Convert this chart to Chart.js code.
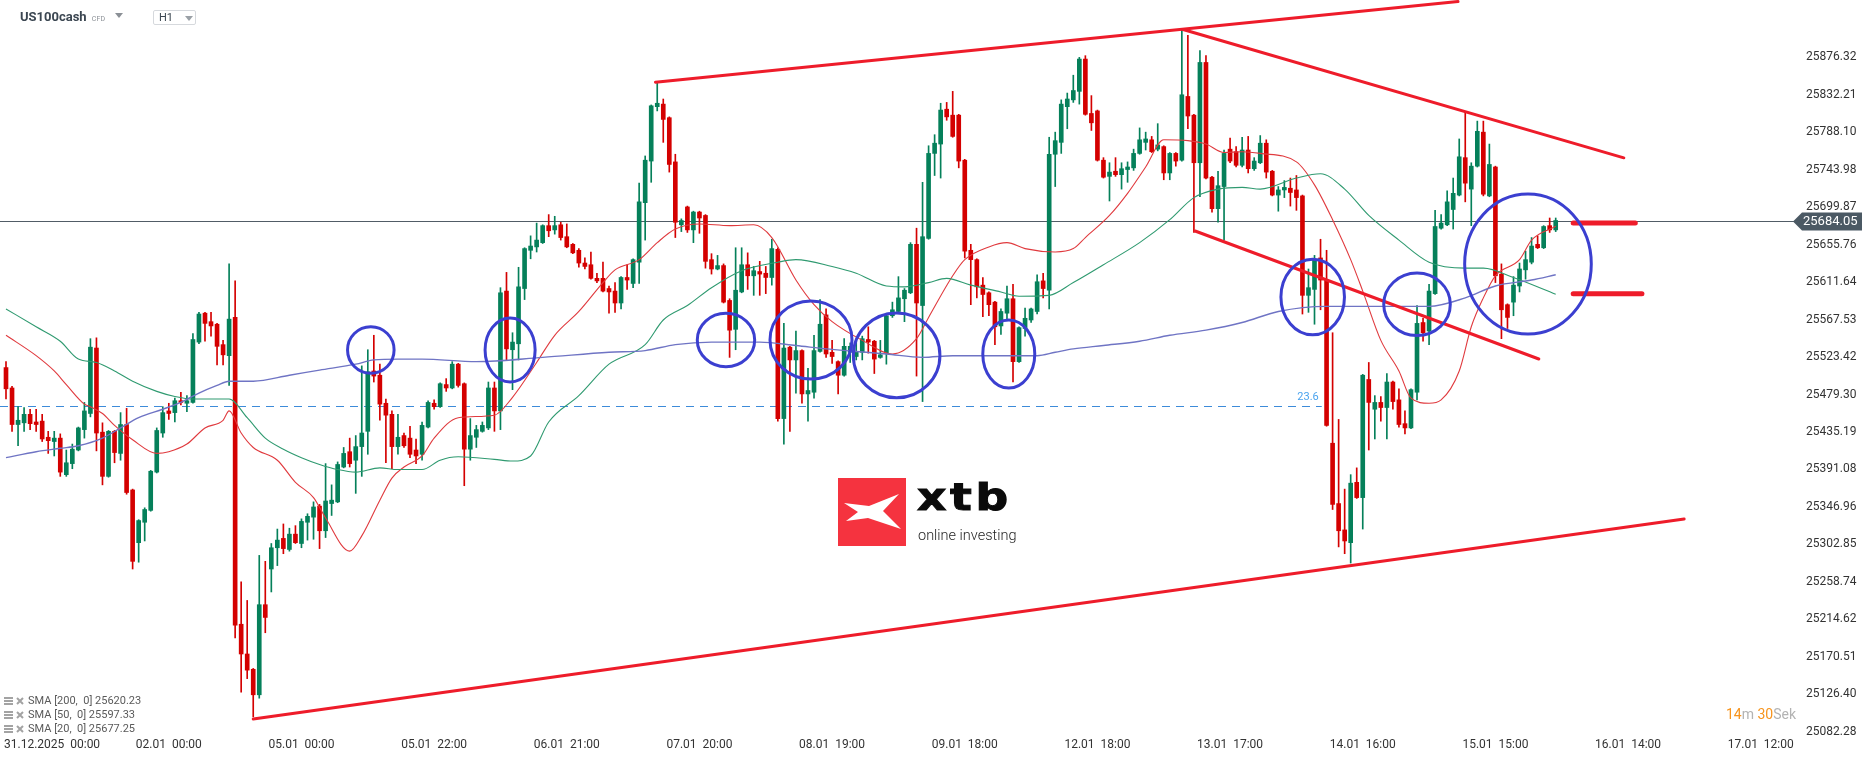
<!DOCTYPE html>
<html>
<head>
<meta charset="utf-8">
<title>US100cash H1</title>
<script src="https://cdn.jsdelivr.net/npm/chart.js@4.4.1/dist/chart.umd.min.js"></script>
<style>
  html, body { margin: 0; padding: 0; background: #fff; overflow: hidden; }
  #wrap { position: relative; width: 1866px; height: 761px; font-family: Roboto, "Noto Sans", sans-serif; }
  #c { position: absolute; left: 0; top: 0; }
  .sym { position: absolute; left: 20px; top: 9px; font-weight: 700; font-size: 13px; color: #3b4651; white-space: nowrap; }
  .sym .cfd { font-weight: 400; font-size: 7px; color: #8b9096; margin-left: 5px; letter-spacing: 0.2px; }
  .caret { display: inline-block; width: 0; height: 0; border-left: 4px solid transparent; border-right: 4px solid transparent; border-top: 5px solid #8b9096; }
  .sym .caret { margin-left: 10px; vertical-align: 3px; }
  .tf { position: absolute; left: 153px; top: 10px; width: 43px; height: 15px; border: 1px solid #d6d9dd; border-radius: 2px; font-size: 11px; color: #3b4651; box-sizing: border-box; padding-left: 5px; line-height: 14px; }
  .tf .caret { position: absolute; left: 31px; top: 5px; border-top-color: #9aa0a6; }
  .logo { position: absolute; left: 838px; top: 478px; }
  .logo .word { position: absolute; left: 79px; top: 0px; font-family: "DejaVu Sans", sans-serif; font-weight: 700; font-size: 38px; letter-spacing: 3px; color: #0b0b0b; line-height: 38px; transform: scaleX(1.2); transform-origin: 0 0; -webkit-text-stroke: 1px #0b0b0b; }
  .logo .tag { position: absolute; left: 80px; top: 50px; font-family: Roboto, sans-serif; font-weight: 300; font-size: 14.5px; color: #1e1e1e; white-space: nowrap; line-height: 16px; }
  .legend { position: absolute; left: 4px; top: 694px; font-size: 11px; color: #5a5a5a; }
  .legend .row { height: 14px; line-height: 14px; white-space: pre; display: flex; align-items: center; }
  .legend svg { margin-right: 3px; }
  .timer { position: absolute; right: 70px; top: 706px; font-size: 14px; white-space: nowrap; }
  .timer .o { color: #f7941d; }
  .timer .g { color: #b3b3b3; }
</style>
</head>
<body>
<div id="wrap">
  <canvas id="c" width="1866" height="761"></canvas>
  <div class="sym">US100cash<span class="cfd">CFD</span><span class="caret"></span></div>
  <div class="tf">H1<span class="caret"></span></div>
  <div class="logo">
    <svg width="68" height="68" viewBox="0 0 68 68">
      <rect x="0" y="0" width="68" height="68" fill="#f5333f"/>
      <path d="M6,25 L31,28 L61,16 L45,33 L63,51 L30,40 L8,43 L20,34 Z" fill="#ffffff"/>
    </svg>
    <div class="word">xtb</div>
    <div class="tag">online investing</div>
  </div>
  <div class="legend" id="legend"></div>
  <div class="timer"><span class="o">14</span><span class="g">m</span> <span class="o">30</span><span class="g">Sek</span></div>
</div>
<script>
// ---- US100cash, H1 candles (bar 0 = 30.12 19:00, bar 5 = 31.12 00:00) ----
const open = [
  25511, 25487, 25444, 25446, 25456, 25447, 25448, 25429, 25424, 25428,
  25385, 25398, 25414, 25438, 25457, 25534, 25435, 25383, 25436, 25410,
  25444, 25367, 25305, 25329, 25343, 25388, 25434, 25460, 25458, 25472,
  25469, 25470, 25541, 25575, 25565, 25562, 25538, 25525, 25570, 25209,
  25174, 25156, 25126, 25232, 25274, 25299, 25310, 25297, 25315, 25304,
  25329, 25335, 25348, 25319, 25351, 25353, 25394, 25412, 25402, 25418,
  25436, 25507, 25502, 25469, 25456, 25418, 25431, 25428, 25414, 25409,
  25441, 25469, 25465, 25491, 25487, 25515, 25492, 25415, 25429, 25436,
  25440, 25487, 25460, 25601, 25532, 25539, 25604, 25649, 25653, 25658,
  25678, 25673, 25679, 25665, 25656, 25649, 25634, 25632, 25616, 25616,
  25604, 25601, 25587, 25617, 25610, 25635, 25705, 25754, 25818, 25821,
  25805, 25753, 25679, 25700, 25673, 25694, 25690, 25638, 25627, 25631,
  25590, 25556, 25600, 25632, 25619, 25624, 25622, 25617, 25650, 25451,
  25535, 25520, 25531, 25480, 25482, 25530, 25573, 25529, 25518, 25502,
  25529, 25524, 25529, 25544, 25542, 25523, 25528, 25572, 25577, 25592,
  25599, 25656, 25584, 25663, 25763, 25774, 25815, 25808, 25808, 25755,
  25649, 25638, 25608, 25599, 25588, 25560, 25575, 25592, 25518, 25557,
  25567, 25577, 25613, 25602, 25762, 25776, 25818, 25826, 25836, 25874,
  25810, 25813, 25755, 25736, 25742, 25738, 25744, 25746, 25763, 25776,
  25779, 25768, 25771, 25740, 25763, 25755, 25830, 25808, 25752, 25870,
  25735, 25698, 25724, 25768, 25765, 25749, 25767, 25745, 25752, 25775,
  25742, 25714, 25720, 25722, 25720, 25713, 25596, 25603, 25640, 25614,
  25422, 25351, 25320, 25305, 25376, 25358, 25497, 25462, 25470, 25464,
  25494, 25473, 25445, 25440, 25482, 25564, 25554, 25598, 25675, 25679,
  25697, 25714, 25758, 25721, 25748, 25788, 25713, 25747, 25621, 25585,
  25588, 25607, 25626, 25635, 25656, 25652, 25678, 25673
];
const high = [
  25518, 25489, 25465, 25464, 25462, 25462, 25456, 25436, 25436, 25433,
  25414, 25421, 25441, 25470, 25545, 25546, 25446, 25437, 25437, 25458,
  25463, 25368, 25332, 25346, 25390, 25440, 25465, 25469, 25475, 25482,
  25478, 25551, 25576, 25576, 25576, 25563, 25543, 25633, 25613, 25259,
  25237, 25157, 25290, 25283, 25304, 25321, 25327, 25322, 25325, 25333,
  25339, 25353, 25350, 25398, 25373, 25400, 25417, 25428, 25431, 25513,
  25532, 25549, 25515, 25474, 25460, 25456, 25434, 25442, 25427, 25447,
  25472, 25473, 25493, 25498, 25518, 25516, 25493, 25451, 25443, 25447,
  25494, 25494, 25605, 25623, 25552, 25629, 25652, 25666, 25681, 25679,
  25691, 25689, 25682, 25680, 25657, 25651, 25640, 25647, 25622, 25635,
  25607, 25611, 25618, 25632, 25639, 25728, 25760, 25820, 25847, 25827,
  25806, 25762, 25686, 25701, 25695, 25695, 25691, 25645, 25643, 25633,
  25592, 25652, 25652, 25646, 25630, 25636, 25630, 25662, 25652, 25563,
  25536, 25554, 25532, 25510, 25549, 25591, 25580, 25543, 25519, 25545,
  25540, 25543, 25548, 25559, 25543, 25543, 25575, 25588, 25618, 25604,
  25658, 25675, 25729, 25772, 25785, 25822, 25823, 25836, 25809, 25756,
  25656, 25639, 25617, 25600, 25589, 25580, 25607, 25609, 25559, 25581,
  25581, 25620, 25622, 25782, 25788, 25826, 25834, 25855, 25876, 25878,
  25831, 25814, 25758, 25752, 25758, 25752, 25753, 25768, 25793, 25788,
  25783, 25798, 25772, 25764, 25764, 25908, 25902, 25809, 25884, 25878,
  25736, 25742, 25767, 25781, 25771, 25782, 25783, 25758, 25784, 25779,
  25743, 25724, 25731, 25734, 25737, 25714, 25627, 25643, 25662, 25649,
  25552, 25450, 25368, 25385, 25393, 25503, 25517, 25478, 25477, 25504,
  25495, 25486, 25460, 25486, 25584, 25569, 25609, 25696, 25691, 25719,
  25734, 25780, 25812, 25752, 25801, 25801, 25774, 25748, 25633, 25586,
  25618, 25634, 25648, 25664, 25666, 25678, 25687, 25687
];
const low = [
  25474, 25436, 25419, 25436, 25438, 25436, 25424, 25410, 25407, 25383,
  25383, 25392, 25413, 25428, 25453, 25413, 25373, 25382, 25399, 25402,
  25362, 25274, 25282, 25307, 25342, 25387, 25429, 25450, 25447, 25467,
  25459, 25469, 25539, 25542, 25548, 25514, 25514, 25490, 25193, 25129,
  25145, 25100, 25122, 25199, 25247, 25278, 25292, 25295, 25304, 25299,
  25308, 25309, 25298, 25311, 25337, 25352, 25393, 25394, 25363, 25383,
  25409, 25494, 25449, 25399, 25392, 25409, 25417, 25405, 25398, 25402,
  25440, 25462, 25464, 25483, 25486, 25488, 25372, 25402, 25417, 25435,
  25438, 25436, 25438, 25520, 25485, 25520, 25591, 25639, 25647, 25657,
  25665, 25668, 25661, 25652, 25645, 25629, 25627, 25615, 25611, 25600,
  25575, 25576, 25580, 25603, 25605, 25610, 25661, 25729, 25813, 25776,
  25741, 25664, 25671, 25670, 25658, 25669, 25628, 25621, 25626, 25587,
  25523, 25532, 25599, 25603, 25596, 25596, 25598, 25608, 25448, 25421,
  25436, 25481, 25469, 25448, 25475, 25529, 25523, 25516, 25480, 25501,
  25517, 25520, 25520, 25528, 25504, 25522, 25515, 25570, 25575, 25565,
  25598, 25501, 25471, 25662, 25737, 25734, 25802, 25782, 25746, 25640,
  25585, 25593, 25571, 25572, 25538, 25550, 25567, 25494, 25517, 25548,
  25564, 25574, 25593, 25580, 25724, 25763, 25792, 25823, 25821, 25808,
  25790, 25754, 25734, 25707, 25736, 25721, 25729, 25743, 25762, 25767,
  25764, 25766, 25732, 25732, 25748, 25754, 25792, 25670, 25712, 25733,
  25694, 25682, 25661, 25752, 25747, 25747, 25740, 25743, 25751, 25734,
  25713, 25695, 25711, 25701, 25696, 25574, 25576, 25562, 25579, 25442,
  25344, 25300, 25292, 25281, 25357, 25321, 25414, 25427, 25448, 25427,
  25462, 25441, 25433, 25439, 25473, 25542, 25538, 25597, 25674, 25678,
  25674, 25713, 25706, 25678, 25747, 25713, 25712, 25611, 25545, 25557,
  25572, 25600, 25615, 25633, 25651, 25651, 25670, 25671
];
const close = [
  25486, 25444, 25449, 25456, 25445, 25444, 25427, 25425, 25428, 25388,
  25399, 25415, 25440, 25460, 25535, 25434, 25383, 25436, 25411, 25444,
  25364, 25283, 25331, 25344, 25389, 25437, 25458, 25457, 25472, 25470,
  25472, 25544, 25574, 25563, 25560, 25536, 25526, 25568, 25208, 25174,
  25155, 25126, 25232, 25217, 25299, 25308, 25298, 25315, 25305, 25330,
  25336, 25347, 25319, 25354, 25355, 25397, 25410, 25398, 25418, 25434,
  25506, 25501, 25468, 25455, 25418, 25429, 25419, 25409, 25407, 25443,
  25470, 25465, 25492, 25487, 25515, 25490, 25415, 25431, 25438, 25443,
  25487, 25460, 25599, 25533, 25541, 25606, 25651, 25654, 25661, 25678,
  25672, 25678, 25664, 25653, 25646, 25634, 25630, 25616, 25613, 25601,
  25600, 25587, 25617, 25614, 25638, 25706, 25755, 25819, 25822, 25803,
  25750, 25682, 25684, 25673, 25694, 25687, 25636, 25627, 25631, 25588,
  25555, 25602, 25632, 25619, 25625, 25621, 25617, 25651, 25451, 25534,
  25520, 25531, 25480, 25484, 25531, 25562, 25527, 25524, 25502, 25536,
  25536, 25530, 25545, 25541, 25521, 25526, 25572, 25579, 25593, 25602,
  25656, 25587, 25665, 25763, 25775, 25814, 25806, 25783, 25754, 25648,
  25638, 25606, 25597, 25585, 25559, 25577, 25592, 25518, 25558, 25569,
  25580, 25612, 25604, 25762, 25778, 25821, 25827, 25837, 25874, 25809,
  25799, 25755, 25735, 25741, 25738, 25745, 25747, 25763, 25779, 25780,
  25765, 25773, 25740, 25763, 25754, 25832, 25807, 25752, 25870, 25734,
  25698, 25725, 25763, 25754, 25749, 25767, 25745, 25754, 25775, 25741,
  25714, 25720, 25723, 25717, 25711, 25596, 25605, 25638, 25614, 25443,
  25350, 25319, 25307, 25375, 25358, 25502, 25470, 25470, 25464, 25494,
  25471, 25444, 25440, 25485, 25563, 25552, 25601, 25677, 25681, 25706,
  25716, 25759, 25728, 25748, 25789, 25715, 25750, 25619, 25579, 25570,
  25608, 25627, 25638, 25654, 25652, 25677, 25673, 25684.05
];

// ---- moving averages (bar, value) ----
const sma200Bar = [0, 5, 9, 12, 16, 19, 22, 26, 29, 32, 35, 37, 41, 47, 52, 58, 61, 65, 69, 78,
  89, 100, 106, 111, 117, 125, 131, 136, 141, 146, 152, 157, 163, 171, 174, 177, 182, 188, 193, 199,
  205, 211, 219, 228, 236, 242, 247, 253, 257];
const sma200Val = [25405, 25412, 25416, 25419, 25428, 25440, 25452, 25462, 25470, 25481, 25490, 25495, 25495, 25502, 25508, 25515, 25520, 25521, 25521, 25518,
  25523, 25529, 25531, 25538, 25541, 25541, 25537, 25533, 25530, 25527, 25523, 25525, 25525, 25525, 25529, 25533, 25537, 25542, 25549, 25555,
  25564, 25577, 25583, 25583, 25583, 25593, 25607, 25614, 25620.23];

const sma50Bar = [0, 5, 9, 12, 15, 18, 21, 25, 28, 31, 37, 40, 43, 46, 49, 52, 55, 58, 62, 65,
  69, 72, 75, 81, 84, 87, 90, 95, 100, 106, 109, 113, 117, 122, 128, 131, 137, 141, 146, 149,
  153, 156, 160, 165, 168, 173, 177, 182, 188, 193, 197, 201, 205, 208, 214, 218, 222, 226, 231, 236,
  242, 245, 250, 257];
const sma50Val = [25580, 25559, 25542, 25521, 25517, 25507, 25495, 25483, 25477, 25474, 25474, 25452, 25428, 25415, 25405, 25397, 25391, 25388, 25393, 25391,
  25391, 25402, 25406, 25403, 25401, 25407, 25447, 25478, 25515, 25538, 25567, 25584, 25605, 25625, 25635, 25638, 25630, 25622, 25607, 25606,
  25611, 25616, 25608, 25600, 25595, 25596, 25611, 25632, 25658, 25685, 25711, 25721, 25723, 25721, 25734, 25739, 25721, 25690, 25661, 25635,
  25628, 25628, 25617, 25597.33];

const sma20Bar = [0, 5, 8, 10, 13, 14, 16, 18, 21, 25, 27, 30, 33, 36, 37, 39, 41, 45, 48, 51,
  53, 57, 59, 62, 64, 66, 69, 71, 75, 81, 84, 88, 91, 95, 99, 101, 105, 108, 111, 115,
  120, 124, 127, 131, 134, 137, 142, 147, 151, 153, 157, 159, 163, 166, 169, 174, 177, 179, 183, 186,
  189, 192, 196, 199, 202, 205, 208, 214, 217, 220, 223, 225, 228, 231, 233, 236, 238, 241, 243, 245,
  247, 251, 253, 257];
const sma20Val = [25549, 25525, 25507, 25491, 25468, 25465, 25457, 25443, 25426, 25410, 25412, 25421, 25440, 25449, 25460, 25434, 25417, 25402, 25376, 25358,
  25334, 25295, 25313, 25355, 25381, 25394, 25407, 25428, 25452, 25455, 25476, 25517, 25549, 25577, 25611, 25626, 25638, 25658, 25674, 25680,
  25678, 25679, 25664, 25614, 25585, 25565, 25543, 25527, 25545, 25570, 25619, 25638, 25653, 25658, 25651, 25647, 25651, 25664, 25690, 25716,
  25747, 25779, 25778, 25774, 25764, 25765, 25763, 25753, 25726, 25685, 25638, 25601, 25543, 25507, 25475, 25469, 25473, 25507, 25559, 25593,
  25619, 25638, 25661, 25677.25];

// ---- axes ----
const yTickLabels = ['25082.28', '25126.40', '25170.51', '25214.62', '25258.74', '25302.85', '25346.96',
  '25391.08', '25435.19', '25479.30', '25523.42', '25567.53', '25611.64', '25655.76', '25699.87',
  '25743.98', '25788.10', '25832.21', '25876.32'];
const xTickBars = [5, 27, 49, 71, 93, 115, 137, 159, 181, 203, 225, 247, 269, 291];
const xTickLabels = ['31.12.2025  00:00', '02.01  00:00', '05.01  00:00', '05.01  22:00', '06.01  21:00',
  '07.01  20:00', '08.01  19:00', '09.01  18:00', '12.01  18:00', '13.01  17:00', '14.01  16:00',
  '15.01  15:00', '16.01  14:00', '17.01  12:00'];

// ---- drawing tools: trend lines [bar1, price1, bar2, price2] ----
const trendLines = [
  [107.7, 25846.8, 240.8, 25941.6],
  [41.0, 25097.5, 278.3, 25332.8],
  [195.2, 25908.8, 268.3, 25757.8],
  [197.2, 25671.7, 254.2, 25521.1]
];
// ellipses [centre bar, centre price, bar radius, price radius]
const rings = [
  [60.5, 25531.7, 3.86, 27.4],
  [83.6, 25531.7, 4.15, 37.7],
  [119.4, 25543.4, 4.76, 31.4],
  [133.5, 25543.4, 6.8, 45.9],
  [147.7, 25525.3, 7.18, 49.9],
  [166.3, 25526.9, 4.31, 40.0],
  [216.7, 25594.0, 5.27, 44.5],
  [234.0, 25585.4, 5.52, 36.8],
  [252.4, 25632.9, 10.5, 82.4]
];
// horizontal level marks [from bar, to bar, price]
const levelMarks = [
  [259.9, 270.2, 25681],
  [259.9, 271.3, 25598]
];
const fibLevel = 25466.2;
const fibEndBar = 218.2;
const fibLabel = '23.6';

const lastPrice = close[close.length - 1];
const UP = '#05805a', DOWN = '#d40000';

// legend rows
const legendRows = [['SMA [200,  0]', sma200Val], ['SMA [50,  0]', sma50Val], ['SMA [20,  0]', sma20Val]];
const legendEl = document.getElementById('legend');
legendRows.forEach(([name, vals]) => {
  const row = document.createElement('div');
  row.className = 'row';
  row.innerHTML =
    '<svg width="9" height="8" viewBox="0 0 9 8"><rect x="0" y="0" width="9" height="2" fill="#a3a3a3"/><rect x="0" y="3" width="9" height="2" fill="#a3a3a3"/><rect x="0" y="6" width="9" height="2" fill="#a3a3a3"/></svg>' +
    '<svg width="8" height="8" viewBox="0 0 8 8" style="margin-right:4px"><path d="M1,1 L7,7 M7,1 L1,7" stroke="#a3a3a3" stroke-width="2"/></svg>' +
    '<span>' + name + ' ' + vals[vals.length - 1].toFixed(2) + '</span>';
  legendEl.appendChild(row);
});

const pts = (bars, vals) => bars.map((b, n) => ({ x: b, y: vals[n] }));
const candleColors = close.map((c, k) => (c >= open[k] ? UP : DOWN));

const overlays = {
  id: 'overlays',
  beforeDatasetsDraw(chart) {
    const { ctx, chartArea, scales: { x, y } } = chart;
    ctx.save();
    // fibonacci 23.6 level
    const fy = Math.round(y.getPixelForValue(fibLevel)) + 0.5;
    const fx = x.getPixelForValue(fibEndBar);
    ctx.strokeStyle = '#3d8bd9';
    ctx.lineWidth = 1;
    ctx.setLineDash([8, 6]);
    ctx.beginPath(); ctx.moveTo(chartArea.left, fy); ctx.lineTo(fx, fy); ctx.stroke();
    ctx.setLineDash([]);
    ctx.fillStyle = '#4aa3ee';
    ctx.font = '11px Roboto';
    ctx.textAlign = 'right';
    ctx.textBaseline = 'bottom';
    ctx.fillText(fibLabel, fx - 3, fy - 4);
    // last price line
    const py = Math.round(y.getPixelForValue(lastPrice)) + 0.5;
    ctx.strokeStyle = '#515c66';
    ctx.beginPath(); ctx.moveTo(chartArea.left, py); ctx.lineTo(chartArea.right, py); ctx.stroke();
    ctx.restore();
  },
  afterDatasetsDraw(chart) {
    const { ctx, scales: { x, y } } = chart;
    ctx.save();
    ctx.lineCap = 'round';
    ctx.strokeStyle = '#ee1c2a';
    ctx.lineWidth = 3;
    trendLines.forEach(([b1, p1, b2, p2]) => {
      ctx.beginPath();
      ctx.moveTo(x.getPixelForValue(b1), y.getPixelForValue(p1));
      ctx.lineTo(x.getPixelForValue(b2), y.getPixelForValue(p2));
      ctx.stroke();
    });
    ctx.lineWidth = 5;
    levelMarks.forEach(([b1, b2, p]) => {
      const ly = y.getPixelForValue(p);
      ctx.beginPath();
      ctx.moveTo(x.getPixelForValue(b1), ly);
      ctx.lineTo(x.getPixelForValue(b2), ly);
      ctx.stroke();
    });
    ctx.strokeStyle = '#3b3fd0';
    ctx.lineWidth = 3;
    rings.forEach(([b, p, rb, rp]) => {
      const cx = x.getPixelForValue(b), cy = y.getPixelForValue(p);
      const rx = Math.abs(x.getPixelForValue(b + rb) - cx);
      const ry = Math.abs(y.getPixelForValue(p + rp) - cy);
      ctx.beginPath();
      ctx.ellipse(cx, cy, rx, ry, 0, 0, Math.PI * 2);
      ctx.stroke();
    });
    ctx.restore();
  },
  afterDraw(chart) {
    const { ctx, chartArea, scales: { x, y } } = chart;
    ctx.save();
    // time axis labels
    ctx.font = '12px Roboto';
    ctx.fillStyle = '#333';
    ctx.textAlign = 'left';
    ctx.textBaseline = 'middle';
    xTickBars.forEach((b, n) => {
      const t = xTickLabels[n];
      const w = ctx.measureText(t).width;
      const left = Math.max(4, x.getPixelForValue(b) - w / 2);
      ctx.fillText(t, left, chartArea.bottom + 5);
    });
    // last price tag
    const py = Math.round(y.getPixelForValue(lastPrice)) + 0.5;
    const tx = chartArea.right - 3;
    ctx.fillStyle = '#4b5964';
    ctx.beginPath();
    ctx.moveTo(tx, py);
    ctx.lineTo(tx + 9, py - 9);
    ctx.lineTo(1862, py - 9);
    ctx.lineTo(1862, py + 9);
    ctx.lineTo(tx + 9, py + 9);
    ctx.closePath();
    ctx.fill();
    ctx.fillStyle = '#ffffff';
    ctx.font = '13px Roboto';
    ctx.fillText(lastPrice.toFixed(2), tx + 10, py + 0.5);
    ctx.restore();
  }
};

new Chart(document.getElementById('c'), {
  type: 'bar',
  data: {
    datasets: [
      {
        type: 'line', label: 'SMA200', order: 1,
        data: pts(sma200Bar, sma200Val),
        borderColor: '#6f74c4', borderWidth: 1.4, pointRadius: 0,
        cubicInterpolationMode: 'monotone'
      },
      {
        type: 'line', label: 'SMA50', order: 1,
        data: pts(sma50Bar, sma50Val),
        borderColor: '#2f9a70', borderWidth: 1.1, pointRadius: 0,
        cubicInterpolationMode: 'monotone'
      },
      {
        type: 'line', label: 'SMA20', order: 1,
        data: pts(sma20Bar, sma20Val),
        borderColor: '#e03a3e', borderWidth: 1.1, pointRadius: 0,
        cubicInterpolationMode: 'monotone'
      },
      {
        label: 'body', order: 2,
        data: open.map((o, k) => ({ x: k, y: [o, close[k]] })),
        backgroundColor: candleColors,
        barThickness: 4, minBarLength: 1, grouped: false, borderWidth: 0
      },
      {
        label: 'wick', order: 3,
        data: low.map((l, k) => ({ x: k, y: [l, high[k]] })),
        backgroundColor: candleColors,
        barThickness: 1, grouped: false, borderWidth: 0
      }
    ]
  },
  options: {
    responsive: false,
    animation: false,
    events: [],
    layout: { autoPadding: false, padding: { left: 0, right: 0, top: 0, bottom: 21 } },
    plugins: { legend: { display: false }, tooltip: { enabled: false } },
    scales: {
      x: {
        type: 'linear', min: -0.995, max: 296.85, offset: false, display: false
      },
      y: {
        type: 'linear', position: 'right', min: 25072.8, max: 25943.5, beginAtZero: false,
        grid: { display: false, drawTicks: false },
        border: { display: false },
        ticks: {
          padding: 10, color: '#333', autoSkip: false,
          font: { family: 'Roboto', size: 12 },
          callback: (v) => {
            const t = yTickLabels.find(s => Math.abs(parseFloat(s) - v) < 0.005);
            return t || '';
          }
        },
        afterBuildTicks: (s) => { s.ticks = yTickLabels.map(t => ({ value: parseFloat(t) })); },
        afterFit: (s) => { s.width = 70; s.paddingTop = 0; s.paddingBottom = 0; }
      }
    }
  },
  plugins: [overlays]
});
</script>
</body>
</html>
